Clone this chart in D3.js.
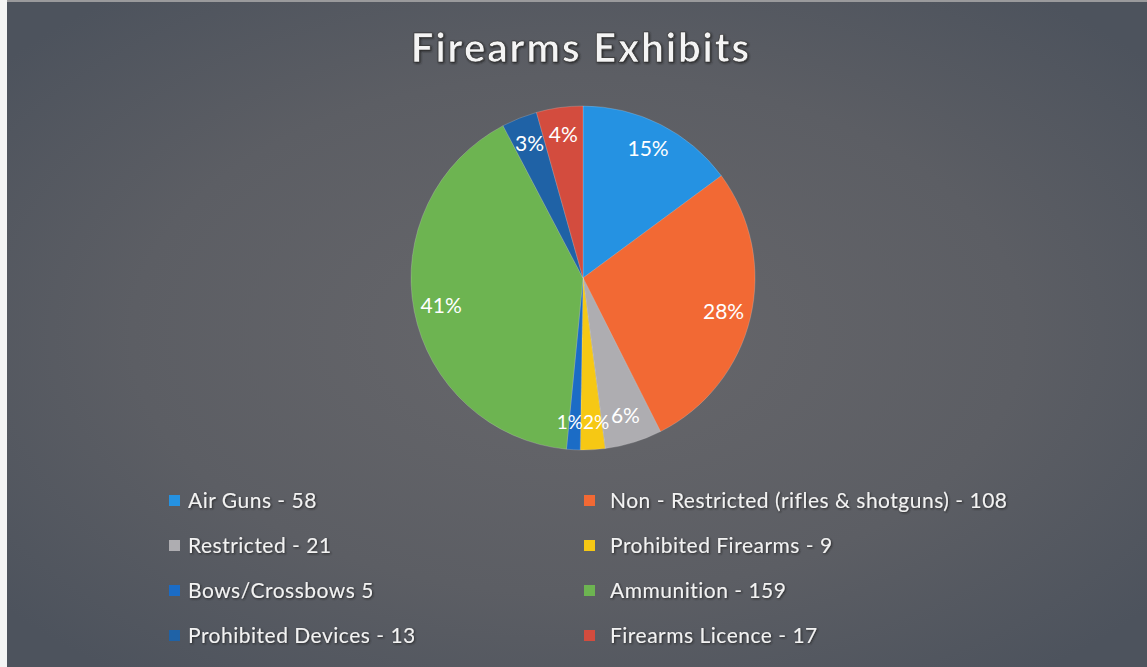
<!DOCTYPE html>
<html>
<head>
<meta charset="utf-8">
<script src="https://cdn.jsdelivr.net/npm/d3@7"></script>
<style>
  html, body { margin: 0; padding: 0; background: #f2f2f2; }
  svg { display: block; }
</style>
</head>
<body>
<svg id="chart" width="1147" height="667"></svg>
<script>
// Exhibit categories and counts
const categories = [
  "Air Guns - 58",
  "Non - Restricted (rifles & shotguns) - 108",
  "Restricted - 21",
  "Prohibited Firearms - 9",
  "Bows/Crossbows 5",
  "Ammunition - 159",
  "Prohibited Devices - 13",
  "Firearms Licence - 17"
];
const values = [58, 108, 21, 9, 5, 159, 13, 17];
// Percentage labels as printed on the slices
const pctLabels = ["15%", "28%", "6%", "2%", "1%", "41%", "3%", "4%"];
const colors = ["#2592e2", "#f26934", "#aeadb1", "#f6c814", "#1b6cc6", "#6db451", "#1f62a6", "#d34c3e"];

const W = 1147, H = 667;
const svg = d3.select("#chart");
const defs = svg.append("defs");

// Slate background with a lighter centre
const bg = defs.append("radialGradient").attr("id", "bg")
  .attr("cx", "50%").attr("cy", "50%").attr("r", "65%");
bg.append("stop").attr("offset", "0%").attr("stop-color", "#67676b");
bg.append("stop").attr("offset", "60%").attr("stop-color", "#5c5e64");
bg.append("stop").attr("offset", "100%").attr("stop-color", "#4d535d");

const shadow = defs.append("filter").attr("id", "shadow")
  .attr("x", "-10%").attr("y", "-30%").attr("width", "120%").attr("height", "160%");
shadow.append("feDropShadow").attr("dx", 1).attr("dy", 1).attr("stdDeviation", 1.2)
  .attr("flood-color", "#1a1a1a").attr("flood-opacity", 0.85);

svg.append("rect").attr("x", 7).attr("y", 2).attr("width", W - 7).attr("height", H - 2)
  .attr("fill", "url(#bg)");
svg.append("rect").attr("x", 7).attr("y", 0).attr("width", W - 7).attr("height", 2)
  .attr("fill", "#9a9a9c");

// Title
svg.append("text")
  .attr("x", 581).attr("y", 62)
  .attr("text-anchor", "middle")
  .attr("font-family", "Lato, 'Open Sans', sans-serif")
  .attr("font-weight", 700)
  .attr("font-size", 40)
  .attr("letter-spacing", 2)
  .attr("fill", "#f4f4f4")
  .attr("stroke", "#2a2a2a").attr("stroke-width", 0.6)
  .attr("filter", "url(#shadow)")
  .text("Firearms Exhibits");

// Pie
const cx = 583, cy = 278, r = 172;
const pie = d3.pie().sort(null).value(d => d)
  .startAngle(0).endAngle(2 * Math.PI);
const arcs = pie(values);
const arc = d3.arc().innerRadius(0).outerRadius(r);
const labelArc = d3.arc().innerRadius(r * 0.84).outerRadius(r * 0.84);

const g = svg.append("g").attr("transform", `translate(${cx},${cy})`);
g.selectAll("path.slice")
  .data(arcs)
  .join("path")
  .attr("class", "slice")
  .attr("d", arc)
  .attr("fill", (d, i) => colors[i])
  .attr("stroke", "rgba(235,235,235,0.35)")
  .attr("stroke-width", 0.6);

// The two thinnest slices sit side by side; spread their labels a little
const nudge = [0, 0, 0, 5, -5, 0, 0, 0];
g.selectAll("text.pct")
  .data(arcs)
  .join("text")
  .attr("class", "pct")
  .attr("transform", (d, i) => {
    const [x, y] = labelArc.centroid(d);
    return `translate(${x + nudge[i]},${y})`;
  })
  .attr("text-anchor", "middle")
  .attr("dy", "0.35em")
  .attr("font-family", "Lato, 'Open Sans', sans-serif")
  .attr("font-size", (d, i) => nudge[i] ? 19 : 21)
  .attr("fill", "#ffffff")
  .text((d, i) => pctLabels[i]);

// Legend, two columns
const colX = [169, 584];
const textOff = [19, 26];
const rowY = [501, 546, 591, 636];
const legend = svg.append("g");
categories.forEach((name, i) => {
  const c = i % 2;
  const x = colX[c], y = rowY[Math.floor(i / 2)];
  const item = legend.append("g").attr("transform", `translate(${x},${y})`);
  item.append("rect")
    .attr("x", 0).attr("y", -6).attr("width", 11).attr("height", 11)
    .attr("fill", colors[i]);
  item.append("text")
    .attr("x", textOff[c]).attr("y", 0)
    .attr("dy", "0.35em")
    .attr("font-family", "Lato, 'Open Sans', sans-serif")
    .attr("font-size", 21)
    .attr("letter-spacing", 0.5)
    .attr("fill", "#f2f2f2")
    .attr("filter", "url(#shadow)")
    .text(name);
});

// Thin white margin on the left edge
svg.append("rect").attr("x", 0).attr("y", 0).attr("width", 7).attr("height", H).attr("fill", "#f4f4f4");
</script>
</body>
</html>
